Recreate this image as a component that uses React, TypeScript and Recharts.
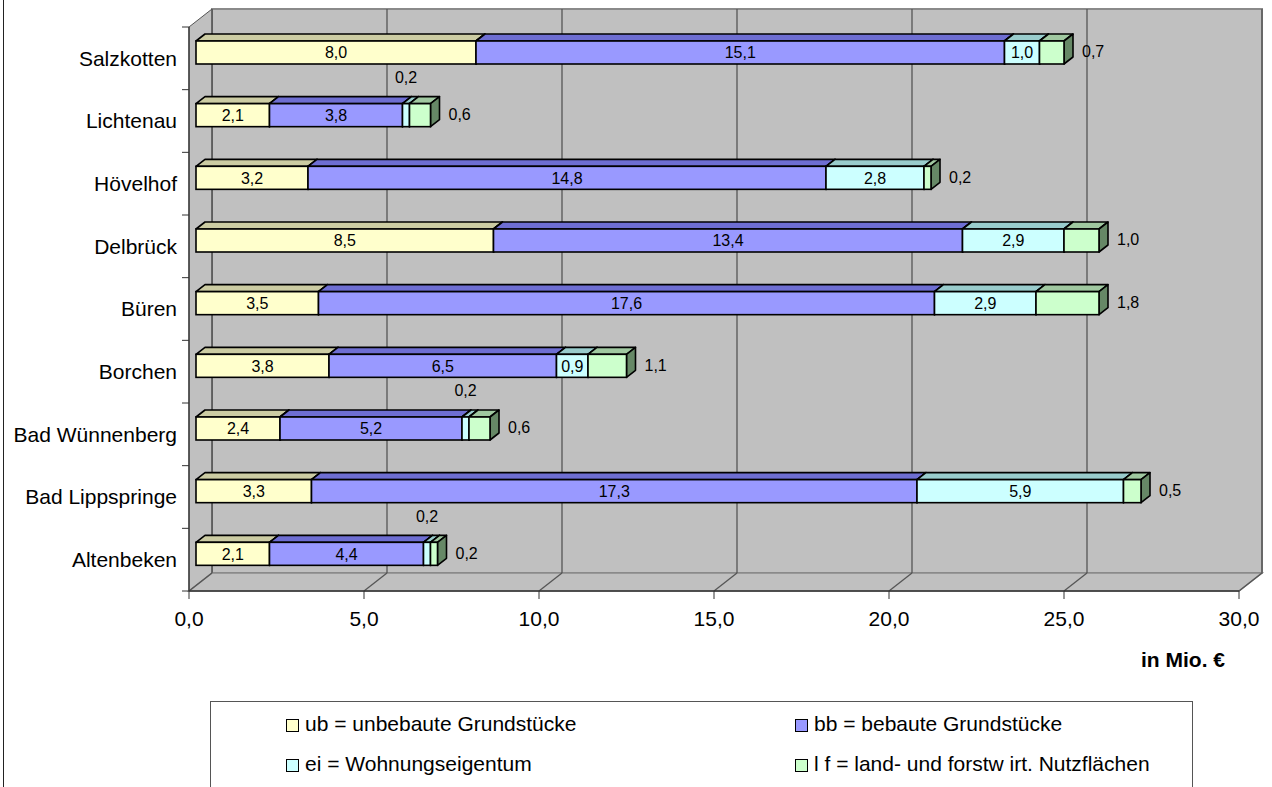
import React from 'react';
import { BarChart, Bar, XAxis, YAxis, ReferenceArea, ReferenceLine, LabelList, Legend } from 'recharts';

// ---------- data ----------
const categories = [
  'Salzkotten',
  'Lichtenau',
  'Hövelhof',
  'Delbrück',
  'Büren',
  'Borchen',
  'Bad Wünnenberg',
  'Bad Lippspringe',
  'Altenbeken',
];
const ubValues = [8.0, 2.1, 3.2, 8.5, 3.5, 3.8, 2.4, 3.3, 2.1];
const bbValues = [15.1, 3.8, 14.8, 13.4, 17.6, 6.5, 5.2, 17.3, 4.4];
const eiValues = [1.0, 0.2, 2.8, 2.9, 2.9, 0.9, 0.2, 5.9, 0.2];
const lfValues = [0.7, 0.6, 0.2, 1.0, 1.8, 1.1, 0.6, 0.5, 0.2];
const xTicks = [0, 5, 10, 15, 20, 25, 30];
const seriesNames = [
  'ub = unbebaute Grundstücke',
  'bb = bebaute Grundstücke',
  'ei = Wohnungseigentum',
  'l f = land- und forstw irt. Nutzflächen',
];
const axisUnit = 'in Mio. €';

const data = categories.map((name, i) => ({
  name,
  ub: ubValues[i],
  bb: bbValues[i],
  ei: eiValues[i],
  lf: lfValues[i],
}));

// ---------- styling / layout ----------
const FONT = '"Liberation Sans", Arial, Helvetica, sans-serif';
const W = 1272;
const H = 787;
const MARGIN = { top: 27, right: 33, bottom: 106, left: 0 };
const YAXIS_W = 189;
const XAXIS_H = 90;
const PLOT_H = H - MARGIN.top - MARGIN.bottom - XAXIS_H;

const WALL_DX = 23;
const WALL_DY = -18;
const BAR_SHIFT_X = 7;
const BAR_SHIFT_Y = -6;
const BAR_DX = 9;
const BAR_DY = -7;

const SERIES = [
  { key: 'ub', front: '#FFFFCC', top: '#CCCCA3', side: '#808066', label: 'inside' },
  { key: 'bb', front: '#9999FF', top: '#6E6ED2', side: '#4D4D99', label: 'inside' },
  { key: 'ei', front: '#CCFFFF', top: '#99CCCC', side: '#668888', label: 'smallAbove' },
  { key: 'lf', front: '#CCFFCC', top: '#A0C8A0', side: '#668866', label: 'outside' },
];

const fmt = (v: number) => Number(v).toFixed(1).replace('.', ',');

const makeBoxShape = (s: typeof SERIES[number]) => (props: any) => {
  const { x, y, width, height } = props;
  if (width == null || !(width > 0.01)) return <g />;
  const fx = x + BAR_SHIFT_X;
  const fy = y + BAR_SHIFT_Y;
  const w = width;
  const h = height;
  const sw = 1.6;
  return (
    <g>
      <polygon
        points={`${fx},${fy} ${fx + BAR_DX},${fy + BAR_DY} ${fx + w + BAR_DX},${fy + BAR_DY} ${fx + w},${fy}`}
        fill={s.top}
        stroke="#000"
        strokeWidth={sw}
        strokeLinejoin="round"
      />
      <polygon
        points={`${fx + w},${fy} ${fx + w + BAR_DX},${fy + BAR_DY} ${fx + w + BAR_DX},${fy + h + BAR_DY} ${fx + w},${fy + h}`}
        fill={s.side}
        stroke="#000"
        strokeWidth={sw}
        strokeLinejoin="round"
      />
      <rect x={fx} y={fy} width={w} height={h} fill={s.front} stroke="#000" strokeWidth={sw} />
    </g>
  );
};

const makeLabel = (kind: string) => (props: any) => {
  const vb = props.viewBox && props.viewBox.width != null ? props.viewBox : props;
  const x = Number(vb.x);
  const y = Number(vb.y);
  const w = Number(vb.width);
  const h = Number(vb.height);
  const v = Number(props.value);
  if (!isFinite(x) || !isFinite(v)) return null;
  const fx = x + BAR_SHIFT_X;
  const fy = y + BAR_SHIFT_Y;
  let tx = fx + w / 2;
  let ty = fy + h / 2;
  let anchor: 'middle' | 'start' = 'middle';
  if (kind === 'outside') {
    tx = fx + w + BAR_DX + 9;
    ty = fy + h / 2 - 1;
    anchor = 'start';
  } else if (kind === 'smallAbove' && v < 0.5) {
    ty = fy + h / 2 - 38;
  }
  return (
    <text x={tx} y={ty} dy="0.36em" textAnchor={anchor} fontSize={16} fontFamily={FONT} fill="#000">
      {fmt(v)}
    </text>
  );
};

const WallShape = (p: any) => {
  const x = Number(p.x);
  const y = Number(p.y);
  const w = Number(p.width);
  const h = Number(p.height);
  const dx = WALL_DX;
  const dy = WALL_DY;
  return (
    <g>
      <polygon
        points={`${x + dx},${y + dy} ${x + w + dx},${y + dy} ${x + w + dx},${y + h + dy} ${x + dx},${y + h + dy}`}
        fill="#C0C0C0"
        stroke="#8A8A8A"
        strokeWidth={2}
      />
      <polygon
        points={`${x},${y} ${x + dx},${y + dy} ${x + dx},${y + h + dy} ${x},${y + h}`}
        fill="#C0C0C0"
        stroke="#555"
        strokeWidth={1}
      />
      <polygon
        points={`${x},${y + h} ${x + dx},${y + h + dy} ${x + w + dx},${y + h + dy} ${x + w},${y + h}`}
        fill="#C0C0C0"
        stroke="#8A8A8A"
        strokeWidth={1.5}
      />
    </g>
  );
};

const GridShape = (p: any) => {
  const x = Number(p.x1);
  const top = Math.min(Number(p.y1), Number(p.y2));
  const bottom = Math.max(Number(p.y1), Number(p.y2));
  return (
    <g>
      <line x1={x + WALL_DX} y1={top + WALL_DY} x2={x + WALL_DX} y2={bottom + WALL_DY} stroke="#555" strokeWidth={1.3} />
      <line x1={x + WALL_DX} y1={bottom + WALL_DY} x2={x} y2={bottom} stroke="#555" strokeWidth={1.3} />
    </g>
  );
};

const YTick = (props: any) => {
  const { y, payload, index } = props;
  const band = PLOT_H / categories.length;
  const yy = Number(y);
  return (
    <g>
      <line x1={YAXIS_W - 7} y1={yy - band / 2} x2={YAXIS_W} y2={yy - band / 2} stroke="#333" strokeWidth={1} />
      {index === categories.length - 1 ? (
        <line x1={YAXIS_W - 7} y1={yy + band / 2} x2={YAXIS_W} y2={yy + band / 2} stroke="#333" strokeWidth={1} />
      ) : null}
      <text x={YAXIS_W - 12} y={yy} dy="0.35em" textAnchor="end" fontSize={21} fontFamily={FONT} fill="#000">
        {payload && payload.value}
      </text>
    </g>
  );
};

const LegendContent = (props: any) => {
  const payload: any[] = props.payload && props.payload.length ? props.payload : [];
  const items = SERIES.map((s, i) => {
    const found = payload.find((e) => e.dataKey === s.key);
    return { text: found ? found.value : seriesNames[i], color: found && found.color ? found.color : s.front };
  });
  const cols = [75, 584];
  const rows = [22, 62];
  return (
    <div
      style={{
        position: 'relative',
        width: 983,
        height: 100,
        border: '1px solid #555',
        boxSizing: 'border-box',
        background: '#fff',
        fontFamily: FONT,
      }}
    >
      {items.map((it, i) => (
        <div
          key={i}
          style={{
            position: 'absolute',
            left: cols[i % 2],
            top: rows[Math.floor(i / 2)] - 13,
            height: 26,
            display: 'flex',
            alignItems: 'center',
            whiteSpace: 'nowrap',
          }}
        >
          <span
            style={{
              display: 'inline-block',
              width: 11,
              height: 11,
              border: '1px solid #000',
              background: it.color,
              marginRight: 6,
              marginTop: 3,
            }}
          />
          <span style={{ fontSize: 21, color: '#000', lineHeight: '26px' }}>{it.text}</span>
        </div>
      ))}
    </div>
  );
};

export default function App() {
  return (
    <div
      style={{
        position: 'fixed',
        left: 0,
        top: 0,
        width: W,
        height: H,
        overflow: 'hidden',
        background: '#fff',
        fontFamily: FONT,
      }}
    >
      <div style={{ position: 'absolute', left: 3, top: 0, width: 1, height: H, background: '#222' }} />
      <BarChart
        width={W}
        height={H}
        data={data}
        layout="vertical"
        margin={MARGIN}
        barSize={23}
        style={{ fontFamily: FONT }}
      >
        <ReferenceArea x1={0} x2={30} shape={WallShape} zIndex={-200} ifOverflow="visible" />
        {xTicks.map((t) => (
          <ReferenceLine key={t} x={t} shape={GridShape} zIndex={-150} ifOverflow="visible" />
        ))}
        <XAxis
          type="number"
          domain={[0, 30]}
          ticks={xTicks}
          interval={0}
          allowDataOverflow
          tickFormatter={fmt}
          tick={{ fontSize: 21, fill: '#000', fontFamily: FONT }}
          tickSize={8}
          tickMargin={12}
          axisLine={{ stroke: '#333', strokeWidth: 1.3 }}
          tickLine={{ stroke: '#333' }}
          height={XAXIS_H}
          label={{
            value: axisUnit,
            position: 'insideBottomRight',
            offset: 14,
            fontSize: 21,
            fontWeight: 'bold',
            fill: '#000',
            fontFamily: FONT,
          }}
        />
        <YAxis
          type="category"
          dataKey="name"
          width={YAXIS_W}
          interval={0}
          axisLine={{ stroke: '#333', strokeWidth: 1.3 }}
          tickLine={false}
          tick={<YTick />}
        />
        {SERIES.map((s, i) => (
          <Bar
            key={s.key}
            dataKey={s.key}
            name={seriesNames[i]}
            stackId="a"
            fill={s.front}
            isAnimationActive={false}
            shape={makeBoxShape(s)}
          >
            <LabelList dataKey={s.key} content={makeLabel(s.label)} />
          </Bar>
        ))}
        <Legend
          layout="horizontal"
          verticalAlign="middle"
          align="center"
          content={<LegendContent />}
          wrapperStyle={{ left: 210, top: 701, width: 983, height: 100 }}
        />
      </BarChart>
    </div>
  );
}
